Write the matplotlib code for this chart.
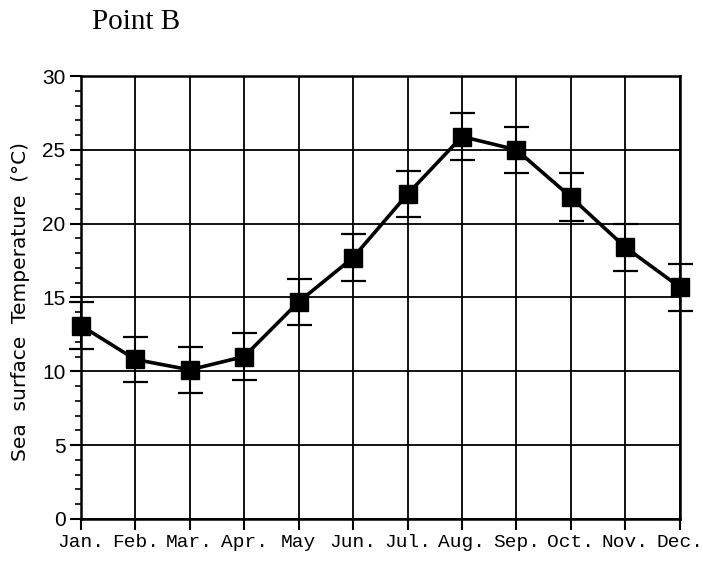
import numpy as np
import matplotlib.pyplot as plt
from matplotlib.ticker import MultipleLocator

# Daten
months = ["Jan.", "Feb.", "Mar.", "Apr.", "May", "Jun.", "Jul.", "Aug.", "Sep.", "Oct.", "Nov.", "Dec."]
sst = [13.1, 10.8, 10.1, 11.0, 14.7, 17.7, 22.0, 25.9, 25.0, 21.8, 18.4, 15.7]
sst_err = [1.6, 1.55, 1.55, 1.6, 1.55, 1.6, 1.55, 1.6, 1.55, 1.6, 1.6, 1.6]

x = np.arange(len(months))

fig = plt.figure(figsize=(7.03, 5.61), dpi=100)
ax = fig.add_axes([0.115, 0.075, 0.852, 0.7895])

line, caps, bars = ax.errorbar(x, sst, yerr=sst_err, color="black", linewidth=2.6,
                               marker="s", markersize=13, elinewidth=1.5, capsize=9,
                               capthick=1.6, zorder=3)
line.set_clip_on(False)
for c in caps:
    c.set_clip_on(False)
for b in bars:
    b.set_clip_on(False)

ax.set_xlim(0, 11)
ax.set_ylim(0, 30)
ax.set_xticks(x)
ax.set_xticklabels(months, family="Liberation Mono", fontsize=14)
ax.yaxis.set_major_locator(MultipleLocator(5))
ax.yaxis.set_minor_locator(MultipleLocator(1))
for lab in ax.get_yticklabels():
    lab.set_family("Liberation Sans")
    lab.set_fontsize(15)

ax.grid(True, which="major", color="black", linewidth=1.3)
ax.tick_params(axis="both", which="major", direction="out", length=8, width=1.5, color="black", pad=3)
ax.tick_params(axis="y", which="minor", direction="out", length=4, width=1.2)
for s in ax.spines.values():
    s.set_linewidth(1.8)

ax.set_ylabel("Sea  surface  Temperature  (°C)", family="DejaVu Sans", fontsize=14.5)
ax.yaxis.set_label_coords(-0.085, 0.49)

fig.text(92 / 703, 1 - 29 / 561, "Point B", family="Liberation Serif", fontsize=21, va="baseline", ha="left")

plt.savefig("out.png", dpi=100)
